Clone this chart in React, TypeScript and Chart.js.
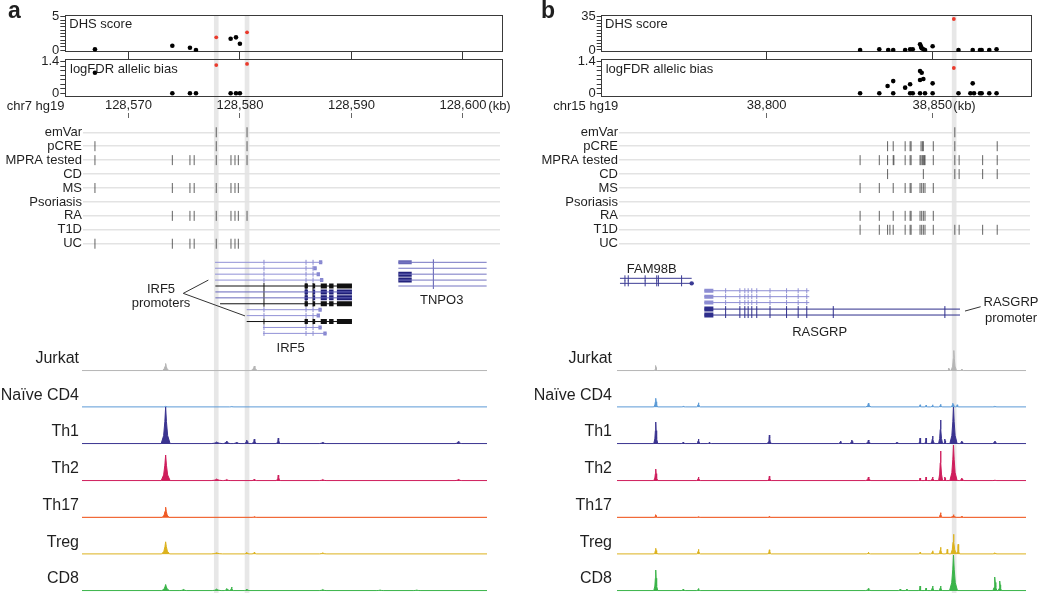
import React, { useEffect, useRef } from "react";
import { Chart, registerables } from "chart.js";

Chart.register(...registerables);

const FONT = '"Liberation Sans", Arial, Helvetica, sans-serif';
const INK = "#1f1f1f";
const PAGE_W = 1050;
const PAGE_H = 593;
Chart.defaults.font.family = FONT;
Chart.defaults.color = INK;

// ================= DATA: panel a (chr7, IRF5 locus) =================
const xTicksA = [128570, 128580, 128590, 128600];
const highlightA = [128577.88, 128580.64];
const varPosA = [128567.0, 128573.94, 128575.52, 128576.06, 128577.88, 128579.17, 128579.65, 128580.0, 128580.64];
const dhsA = [0.1, 0.65, 0.35, 0.0, 1.9, 1.7, 1.9, 0.95, 2.65];
const fdrA = [0.91, 0, 0, 0, 1.25, 0, 0, 0, 1.3];
const emVarFlagA = [0, 0, 0, 0, 1, 0, 0, 0, 1];
const dhsTicksA = [0, 0.5, 1, 1.5, 2, 2.5, 3, 3.5, 4, 4.5, 5];
const fdrTicks = [0, 0.2, 0.4, 0.6, 0.8, 1.0, 1.2, 1.4];

const annotNames = ["emVar", "pCRE", "MPRA tested", "CD", "MS", "Psoriasis", "RA", "T1D", "UC"];
const annotA: number[][] = [
  [128577.88, 128580.64],
  [128567.0, 128577.88, 128580.64],
  [128567.0, 128573.94, 128575.52, 128575.9, 128577.88, 128579.2, 128579.56, 128579.86, 128580.64],
  [],
  [128567.0, 128573.94, 128575.52, 128575.9, 128577.88, 128579.2, 128579.56, 128579.86],
  [],
  [128573.94, 128575.52, 128575.9, 128577.88, 128579.2, 128579.56, 128579.86, 128580.64],
  [],
  [128567.0, 128573.94, 128575.52, 128575.9, 128577.88, 128579.2, 128579.56, 128579.86],
];

// IRF5 transcripts (lane = index)
const irf5StartA = [128577.77, 128577.77, 128577.77, 128577.77, 128577.8, 128577.8, 128577.8, 128578.22, 128580.61, 128580.61, 128580.61, 128582.07, 128582.07];
const irf5EndA = [128587.39, 128586.89, 128587.18, 128587.48, 128590.05, 128590.05, 128590.05, 128590.05, 128587.34, 128587.18, 128590.05, 128587.34, 128587.78];
const irf5KindA = ["light", "light", "light", "light", "black", "navy", "navy", "black", "light", "light", "black", "light", "light"];
const irf5ExonsA = [128582.16, 128585.93, 128586.56];
const irf5BlocksA: [number, number][] = [[128585.8, 128586.1], [128586.55, 128586.75], [128587.25, 128587.8], [128588.0, 128588.4], [128588.7, 128590.05]];
// TNPO3 transcripts
const tnpo3LanesA = [0, 1, 2, 3, 4];
const tnpo3SpanA: [number, number] = [128594.21, 128602.13];
const tnpo3BlockA: [number, number] = [128594.21, 128595.41];
const tnpo3BlockKindA = [1, 0, 2, 2, 0];
const tnpo3ExonsA = [128597.35];
const promoterLeaderA: [number, number][][] = [
  [[128574.92, 5.24], [128577.17, 3.0]],
  [[128574.92, 5.24], [128580.46, 9.05]],
];

type Peak = [number, number, number]; // position kb, height, half-width kb
const jurkatA: Peak[] = [[128573.34, 7.5, 0.3], [128581.29, 5, 0.3]];
const naiveA: Peak[] = [[128573.34, 1, 0.2], [128579.26, 0.8, 0.2]];
const th1A: Peak[] = [[128573.34, 37, 0.4], [128577.92, 2, 0.5], [128578.82, 3, 0.3], [128579.71, 2, 0.3], [128580.61, 4, 0.2], [128581.29, 5, 0.22], [128583.44, 6, 0.2], [128587.43, 2, 0.3], [128599.59, 2.5, 0.3]];
const th2A: Peak[] = [[128573.34, 26, 0.4], [128577.92, 2, 0.5], [128578.82, 1.5, 0.3], [128581.29, 2, 0.2], [128583.44, 6, 0.2], [128587.43, 1.5, 0.3], [128599.59, 1.5, 0.3]];
const th17A: Peak[] = [[128573.34, 10.5, 0.3], [128581.29, 1, 0.2]];
const tregA: Peak[] = [[128573.34, 12.5, 0.35], [128577.92, 1.5, 0.5], [128580.61, 2, 0.2], [128581.29, 2, 0.2], [128587.43, 1.5, 0.3]];
const cd8A: Peak[] = [[128573.34, 6.5, 0.35], [128574.92, 1.5, 0.3], [128577.92, 2, 0.4], [128578.82, 2.5, 0.22], [128579.26, 4, 0.15], [128580.61, 2, 0.2], [128587.43, 1.5, 0.3], [128592.57, 1, 0.3], [128595.86, 1, 0.3]];

// ================= DATA: panel b (chr15, RASGRP locus) =================
const xTicksB = [38800, 38850];
const highlightB = [38856.6];
const dhsPosB = [38828.2, 38834.0, 38836.7, 38838.2, 38841.8, 38843.3, 38844.1, 38846.3, 38846.6, 38846.8, 38847.3, 38847.8, 38850.1, 38856.5, 38857.9, 38862.2, 38864.4, 38864.9, 38867.2, 38869.4];
const dhsB = [0, 0.7, 0, 0, 0, 0.7, 0.7, 6, 3.5, 1.75, 0.7, 0, 3.9, 32.6, 0, 0, 0, 0, 0, 0.7];
const dhsRedB = [0, 0, 0, 0, 0, 0, 0, 0, 0, 0, 0, 0, 0, 1, 0, 0, 0, 0, 0, 0];
const fdrPosB = [38828.2, 38834.0, 38836.5, 38838.2, 38838.2, 38841.8, 38843.3, 38843.3, 38844.1, 38846.3, 38846.8, 38846.3, 38847.3, 38846.3, 38847.8, 38850.1, 38850.1, 38856.5, 38857.9, 38862.2, 38861.5, 38862.6, 38864.4, 38864.9, 38867.2, 38869.4];
const fdrB = [0, 0, 0.32, 0.54, 0, 0.25, 0.4, 0, 0, 0.99, 0.91, 0.59, 0.63, 0, 0, 0.44, 0, 1.12, 0, 0.44, 0, 0, 0, 0, 0, 0];
const fdrRedB = [0, 0, 0, 0, 0, 0, 0, 0, 0, 0, 0, 0, 0, 0, 0, 0, 0, 1, 0, 0, 0, 0, 0, 0, 0, 0];
const dhsTicksB = [0, 3.5, 7, 10.5, 14, 17.5, 21, 24.5, 28, 31.5, 35];

const annotB: number[][] = [
  [38856.8],
  [38836.5, 38838.2, 38841.8, 38843.3, 38843.6, 38846.6, 38847.0, 38847.3, 38850.3, 38856.8, 38869.6],
  [38828.2, 38834.0, 38836.5, 38838.2, 38838.4, 38841.8, 38843.3, 38843.6, 38846.3, 38846.6, 38847.0, 38847.3, 38847.6, 38847.8, 38850.3, 38856.8, 38858.1, 38865.2, 38869.6],
  [38836.5, 38847.3, 38856.8, 38858.1, 38865.2, 38869.6],
  [38828.2, 38834.0, 38838.2, 38841.8, 38843.3, 38843.6, 38846.3, 38846.8, 38847.3, 38847.8, 38850.3],
  [],
  [38828.2, 38834.0, 38838.2, 38841.8, 38843.3, 38843.6, 38846.3, 38846.8, 38847.3, 38847.8, 38850.3],
  [38828.2, 38834.0, 38836.5, 38837.2, 38838.2, 38841.8, 38843.3, 38843.6, 38846.3, 38846.8, 38847.3, 38847.8, 38850.3, 38856.8, 38858.1, 38865.2, 38869.6],
  [],
];

const fam98bLanesB = [2.7, 3.55];
const fam98bSpanB: [number, number] = [38755.7, 38777.35];
const fam98bExonsB = [38757.2, 38758.2, 38763.3, 38766.8, 38767.3, 38774.3];
const rasgrpLanesB = [4.8, 5.8, 6.8, 7.9, 8.9];
const rasgrpStartB = 38781.16;
const rasgrpEndB = [38812.86, 38812.86, 38812.86, 38858.36, 38858.36];
const rasgrpDarkB = [0, 0, 0, 1, 1];
const rasgrpBlockB: [number, number] = [38781.16, 38783.9];
const rasgrpExonsB = [38787.6, 38791.9, 38793.4, 38794.4, 38795.5, 38797.0, 38801.0, 38806.0, 38809.5, 38812.1, 38820.1, 38853.8, 38858.4];
const promoterLeaderB: [number, number][][] = [[[38859.87, 8.23], [38864.6, 7.5]]];

const jurkatB: Peak[] = [[38766.5, 5.5, 0.5], [38855.0, 3, 0.5], [38856.5, 20.5, 0.8], [38858.9, 2, 0.5]];
const naiveB: Peak[] = [[38766.5, 9, 0.6], [38774.8, 1, 0.6], [38779.4, 4.5, 0.6], [38830.7, 4, 0.8], [38846.3, 2.5, 0.5], [38848.1, 2, 0.5], [38850.1, 2.5, 0.6], [38852.5, 3, 0.6], [38856.2, 4, 0.6], [38857.5, 2.5, 0.5], [38868.9, 1, 0.6]];
const th1B: Peak[] = [[38766.5, 22, 0.6], [38774.8, 2, 0.6], [38779.4, 5, 0.6], [38782.7, 2, 0.6], [38800.8, 9, 0.6], [38822.3, 3, 0.6], [38825.7, 4, 0.6], [38830.7, 4, 0.8], [38839.3, 2, 0.6], [38846.3, 6, 0.5], [38848.1, 6, 0.5], [38850.1, 8, 0.6], [38852.5, 24, 0.6], [38853.8, 5, 0.45], [38856.4, 37, 1.1], [38858.9, 3, 0.6], [38868.9, 3, 0.8]];
const th2B: Peak[] = [[38766.5, 12, 0.6], [38779.4, 4, 0.6], [38800.8, 5, 0.6], [38830.7, 4, 0.8], [38846.3, 3, 0.5], [38848.1, 4, 0.5], [38850.1, 4, 0.6], [38852.5, 30, 0.6], [38853.8, 4, 0.45], [38856.4, 36, 1.1], [38858.9, 3, 0.6], [38868.9, 1, 0.6]];
const th17B: Peak[] = [[38766.5, 3, 0.5], [38779.4, 1, 0.5], [38800.8, 1.5, 0.5], [38852.5, 5, 0.6], [38856.4, 3, 0.8], [38858.9, 1.5, 0.5]];
const tregB: Peak[] = [[38766.5, 6, 0.6], [38779.4, 5, 0.6], [38800.8, 4.5, 0.6], [38830.7, 2, 0.6], [38846.3, 2, 0.5], [38850.1, 3.5, 0.6], [38852.5, 7, 0.6], [38854.5, 5, 0.45], [38856.4, 20, 0.8], [38857.8, 10, 0.5], [38868.9, 1.5, 0.6]];
const cd8B: Peak[] = [[38766.5, 21, 0.6], [38774.8, 2, 0.6], [38779.4, 2.5, 0.6], [38830.7, 2.5, 0.8], [38840.3, 2, 0.5], [38842.3, 2, 0.5], [38846.3, 5, 0.5], [38848.1, 3, 0.5], [38850.1, 5, 0.6], [38852.5, 5, 0.6], [38856.4, 36, 1.2], [38868.9, 14, 0.6], [38870.4, 10, 0.5]];

const cellTypes = ["Jurkat", "Naïve CD4", "Th1", "Th2", "Th17", "Treg", "CD8"];
const cellColors = ["#b5b5b5", "#5b9ad6", "#3b3490", "#cf1e5c", "#f05a24", "#dcb21e", "#3bb44a"];
const signalsA = [jurkatA, naiveA, th1A, th2A, th17A, tregA, cd8A];
const signalsB = [jurkatB, naiveB, th1B, th2B, th17B, tregB, cd8B];

// ================= LAYOUT =================
type Panel = { kb0: number; px0: number; ppk: number; left: number; width: number };
const PA: Panel = { kb0: 128570, px0: 128.4, ppk: 11.15, left: 0, width: 525 };
const PB: Panel = { kb0: 38800, px0: 766.7, ppk: 3.312, left: 520, width: 530 };
const kbAt = (p: Panel, px: number) => p.kb0 + (px - p.px0) / p.ppk;

type Area = { l: number; r: number; t: number; b: number };
type Sizes = { left?: number; right?: number; top?: number; bottom?: number };

const BOX_A = { l: 65.3, r: 502.7 };
const BOX_B = { l: 601.7, r: 1031.7 };
const ANN_A = { l: 83, r: 500 };
const ANN_B = { l: 619, r: 1030 };
const SIG_A = { l: 82, r: 487 };
const SIG_B = { l: 617, r: 1026 };
const DHS_TB = { t: 15, b: 51.7 };
const FDR_TB = { t: 59.3, b: 96 };
const AXIS_TB = { t: 118, b: 119 };
const ANN_TB = { t: 125.3, b: 250.7 };
const GENE_TB = { t: 256.4, b: 339.3 };
const SIG_BASE = [371, 407.3, 444, 481, 517.7, 554.3, 591];
const SIG_MAX = 37;

function padFor(p: Panel, a: Area, s: Sizes) {
  return {
    left: a.l - p.left - (s.left ?? 0),
    right: p.left + p.width - a.r - (s.right ?? 0),
    top: a.t - (s.top ?? 0),
    bottom: PAGE_H - a.b - (s.bottom ?? 0),
  };
}
const fix = (size: number) => (s: any) => {
  if (s.isHorizontal()) s.height = size;
  else s.width = size;
  s.paddingLeft = 0;
  s.paddingRight = 0;
  s.paddingTop = 0;
  s.paddingBottom = 0;
};
const setTicks = (vals: number[]) => (s: any) => {
  s.ticks = vals.map((v) => ({ value: v }));
};
const xRange = (p: Panel, a: Area) => ({ type: "linear", min: kbAt(p, a.l), max: kbAt(p, a.r), offset: false });
const fmt = (v: number) => String(v).replace(/\B(?=(\d{3})+(?!\d))/g, ",");
// widest y-axis box that still fits inside the panel canvas (labels are clipped to it)
const axisW = (p: Panel, a: Area) => Math.min(100, a.l - p.left);

function baseOptions(p: Panel, a: Area, s: Sizes, scales: any) {
  return {
    animation: false,
    responsive: false,
    devicePixelRatio: 1,
    events: [],
    layout: { padding: padFor(p, a, s) },
    plugins: { legend: { display: false }, tooltip: { enabled: false }, title: { display: false } },
    scales,
  };
}

const borderAxis = (position: string) => ({
  type: "linear",
  position,
  display: true,
  afterFit: fix(0),
  ticks: { display: false },
  grid: { drawOnChartArea: false, drawTicks: false },
  border: { display: true, color: "#3a3a3a", width: 1 },
});

function bandChart(p: Panel, a: Area, pos: number[]) {
  return {
    type: "bar",
    data: { datasets: [{ data: pos.map((x) => ({ x, y: [0, 1] })), backgroundColor: "#e7e7e7", barThickness: 4 }] },
    options: baseOptions(p, a, {}, { x: { ...xRange(p, a), display: false }, y: { type: "linear", min: 0, max: 1, display: false } }),
  };
}

function scoreBox(p: Panel, a: Area, xTicks: number[], yTicks: number[], yMin: number, yMax: number, pos: number[], vals: number[], red: number[], tickBelow: boolean) {
  const s = { left: 40, bottom: tickBelow ? 7.6 : 0 };
  const black = pos.map((x, i) => ({ x, y: vals[i], r: red[i] })).filter((d) => !d.r);
  const reds = pos.map((x, i) => ({ x, y: vals[i], r: red[i] })).filter((d) => d.r);
  const last = yTicks[yTicks.length - 1];
  return {
    type: "scatter",
    data: {
      datasets: [
        { data: black, pointRadius: 2.3, pointBackgroundColor: "#000", pointBorderWidth: 0 },
        { data: reds, pointRadius: 1.9, pointBackgroundColor: "#ea3a2c", pointBorderWidth: 0 },
      ],
    },
    options: baseOptions(p, a, s, {
      x: {
        ...xRange(p, a),
        position: "bottom",
        afterFit: fix(s.bottom),
        afterBuildTicks: setTicks(xTicks),
        ticks: { display: false },
        grid: { drawOnChartArea: false, drawTicks: tickBelow, tickLength: 7.6, color: "#3a3a3a", lineWidth: 1 },
        border: { display: true, color: "#3a3a3a", width: 1 },
      },
      y: {
        type: "linear",
        min: yMin,
        max: yMax,
        position: "left",
        afterFit: fix(40),
        afterBuildTicks: setTicks(yTicks),
        ticks: { callback: (v: number) => (v === yTicks[0] || v === last ? String(v) : ""), font: { family: FONT, size: 13 }, color: INK, padding: 1, autoSkip: false },
        grid: { drawOnChartArea: false, tickLength: 5, color: "#3a3a3a" },
        border: { display: true, color: "#3a3a3a", width: 1 },
      },
      xt: borderAxis("top"),
      yr: borderAxis("right"),
    }),
  };
}

function axisRow(p: Panel, a: Area, xTicks: number[]) {
  const s = { top: 21 };
  return {
    type: "scatter",
    data: { datasets: [{ data: [] }] },
    options: baseOptions(p, a, s, {
      x: {
        ...xRange(p, a),
        position: "top",
        afterFit: fix(21),
        afterBuildTicks: setTicks(xTicks),
        ticks: { callback: (v: number) => fmt(v), font: { family: FONT, size: 13 }, color: INK, padding: 0, autoSkip: false, maxRotation: 0 },
        grid: { drawOnChartArea: false, drawTicks: true, tickLength: 5, color: "#666" },
        border: { display: false },
      },
      y: { type: "linear", display: false },
    }),
  };
}

function annotChart(p: Panel, a: Area, rows: number[][]) {
  const w = axisW(p, a);
  const s = { left: w };
  const data = rows.flatMap((xs, r) => xs.map((x) => ({ x, y: r })));
  return {
    type: "scatter",
    data: {
      datasets: [
        { data, pointStyle: "line", pointRotation: 90, pointRadius: 5, pointBorderColor: "rgba(60,60,60,0.8)", pointBorderWidth: 1, pointBackgroundColor: "rgba(0,0,0,0)" },
      ],
    },
    options: baseOptions(p, a, s, {
      x: { ...xRange(p, a), display: false },
      y: {
        type: "linear",
        min: -0.5,
        max: annotNames.length - 0.5,
        reverse: true,
        position: "left",
        afterFit: fix(w),
        afterBuildTicks: setTicks(annotNames.map((_, i) => i)),
        ticks: { callback: (v: number) => annotNames[v], font: { family: FONT, size: 13 }, color: INK, padding: 1, autoSkip: false },
        grid: { drawTicks: false, color: "#e3e3e3", lineWidth: 1.5 },
        border: { display: false },
      },
    }),
  };
}

const BASE = 0.4;
// draws each read-off peak (centre, height, half-width) as a spike outline
function profile(peaks: Peak[], x0: number, x1: number) {
  const pts: { x: number; y: number }[] = [{ x: x0, y: BASE }];
  [...peaks]
    .sort((m, n) => m[0] - n[0])
    .forEach(([c, h, w]) => {
      const d = h - BASE;
      pts.push(
        { x: c - w, y: BASE },
        { x: c - 0.45 * w, y: BASE + 0.22 * d },
        { x: c - 0.18 * w, y: BASE + 0.6 * d },
        { x: c, y: h },
        { x: c + 0.18 * w, y: BASE + 0.6 * d },
        { x: c + 0.45 * w, y: BASE + 0.22 * d },
        { x: c + w, y: BASE }
      );
    });
  pts.push({ x: x1, y: BASE });
  return pts;
}

function signalChart(p: Panel, a: Area, name: string, color: string, peaks: Peak[], labelPad: number) {
  const w = axisW(p, a);
  const s = { left: w };
  return {
    type: "line",
    data: {
      datasets: [
        { data: profile(peaks, kbAt(p, a.l), kbAt(p, a.r)), borderColor: color, backgroundColor: color, borderWidth: 1, fill: "origin", pointRadius: 0, tension: 0 },
      ],
    },
    options: baseOptions(p, a, s, {
      x: { ...xRange(p, a), display: false },
      y: {
        type: "linear",
        min: -0.5,
        max: SIG_MAX,
        position: "left",
        afterFit: fix(w),
        afterBuildTicks: setTicks([12]),
        ticks: { callback: () => name, font: { family: FONT, size: 16 }, color: INK, padding: labelPad, autoSkip: false },
        grid: { display: false, drawTicks: false },
        border: { display: false },
      },
    }),
  };
}

type Seg = [number, number, number];
const segLine = (segs: Seg[], color: string, width: number) => ({
  showLine: true,
  spanGaps: false,
  pointRadius: 0,
  borderColor: color,
  borderWidth: width,
  borderCapStyle: "butt",
  data: segs.flatMap(([x1, x2, y]) => [{ x: x1, y }, { x: x2, y }, { x: x2, y: null }]),
});
const tickMarks = (pts: { x: number; y: number }[], color: string, r: number) => ({
  showLine: false,
  pointStyle: "line",
  pointRotation: 90,
  pointRadius: r,
  pointBorderColor: color,
  pointBorderWidth: 1,
  data: pts,
});

function geneChart(p: Panel, a: Area, datasets: any[]) {
  return {
    type: "scatter",
    data: { datasets },
    options: baseOptions(p, a, {}, { x: { ...xRange(p, a), display: false }, y: { type: "linear", min: -1, max: 13, reverse: true, display: false } }),
  };
}

function genesA() {
  const lanes = irf5StartA.map((_, i) => i);
  const of = (k: string) => lanes.filter((i) => irf5KindA[i] === k);
  const light = of("light");
  const black = of("black");
  const navy = of("navy");
  const dark = lanes.filter((i) => irf5KindA[i] !== "light");
  const exonPts = (rows: number[]) =>
    rows.flatMap((i) => irf5ExonsA.filter((e) => e > irf5StartA[i] && e < irf5EndA[i]).map((e) => ({ x: e, y: i })));
  const blocks = (rows: number[]) => rows.flatMap((i) => irf5BlocksA.map(([b1, b2]) => [b1, b2, i] as Seg));
  return [
    segLine(light.map((i) => [irf5StartA[i], irf5EndA[i], i] as Seg), "#9191d6", 1),
    segLine(light.map((i) => [irf5EndA[i] - 0.3, irf5EndA[i], i] as Seg), "#8585cf", 4),
    tickMarks(exonPts(light), "#8a8ad0", 2.5),
    segLine(navy.map((i) => [irf5StartA[i], irf5EndA[i], i] as Seg), "#6767bb", 1),
    segLine(black.map((i) => [irf5StartA[i], irf5EndA[i], i] as Seg), "#111", 1),
    segLine(blocks(black), "#111", 5),
    segLine(blocks(navy), "#1f1f78", 5),
    tickMarks(exonPts(dark), "#111", 3),
    segLine(tnpo3LanesA.map((l) => [tnpo3SpanA[0], tnpo3SpanA[1], l] as Seg), "#7575c2", 1),
    segLine(tnpo3LanesA.filter((l) => tnpo3BlockKindA[l] === 1).map((l) => [tnpo3BlockA[0], tnpo3BlockA[1], l] as Seg), "#6868b6", 4),
    segLine(tnpo3LanesA.filter((l) => tnpo3BlockKindA[l] === 2).map((l) => [tnpo3BlockA[0], tnpo3BlockA[1], l] as Seg), "#23237c", 5),
    tickMarks(tnpo3LanesA.flatMap((l) => tnpo3ExonsA.map((e) => ({ x: e, y: l }))), "#5a5ab0", 3),
    ...promoterLeaderA.map((ln) => ({ ...segLine([], "#333", 1), data: ln.map(([x, y]) => ({ x, y })) })),
  ];
}

function genesB() {
  const fc = "#3b3b94";
  const light = rasgrpLanesB.map((_, i) => i).filter((i) => !rasgrpDarkB[i]);
  const dark = rasgrpLanesB.map((_, i) => i).filter((i) => rasgrpDarkB[i]);
  const rows = (idx: number[]) => idx.map((i) => [rasgrpStartB, rasgrpEndB[i], rasgrpLanesB[i]] as Seg);
  const blk = (idx: number[]) => idx.map((i) => [rasgrpBlockB[0], rasgrpBlockB[1], rasgrpLanesB[i]] as Seg);
  const ex = (idx: number[]) =>
    idx.flatMap((i) => rasgrpExonsB.filter((e) => e <= rasgrpEndB[i] + 0.01).map((e) => ({ x: e, y: rasgrpLanesB[i] })));
  return [
    segLine(fam98bLanesB.map((l) => [fam98bSpanB[0], fam98bSpanB[1], l] as Seg), fc, 1),
    tickMarks(fam98bLanesB.flatMap((l) => fam98bExonsB.map((e) => ({ x: e, y: l }))), fc, 3),
    { showLine: false, pointRadius: 2.2, pointBackgroundColor: fc, pointBorderWidth: 0, data: [{ x: fam98bSpanB[1], y: fam98bLanesB[1] }] },
    segLine(rows(light), "#8e8ed3", 1),
    segLine(blk(light), "#8e8ed3", 4),
    tickMarks(ex(light), "#8e8ed3", 2.5),
    segLine(rows(dark), "#2e2e8c", 1),
    segLine(blk(dark), "#2e2e8c", 5),
    tickMarks(ex(dark), "#2e2e8c", 3),
    ...promoterLeaderB.map((ln) => ({ ...segLine([], "#333", 1), data: ln.map(([x, y]) => ({ x, y })) })),
  ];
}

// ================= COMPONENTS =================
function ChartCanvas({ panel, make }: { panel: Panel; make: () => any }) {
  const ref = useRef<HTMLCanvasElement>(null);
  useEffect(() => {
    const chart = new Chart(ref.current as HTMLCanvasElement, make());
    return () => chart.destroy();
  }, []);
  return (
    <canvas
      ref={ref}
      width={panel.width}
      height={PAGE_H}
      style={{ position: "absolute", left: panel.left, top: 0, width: panel.width, height: PAGE_H }}
    />
  );
}

function Label({ x, y, text, size = 13, align = "left", bold = false, lh }: any) {
  const tx = align === "center" ? "-50%" : align === "right" ? "-100%" : "0";
  return (
    <div
      style={{
        position: "absolute",
        left: x,
        top: y,
        transform: `translate(${tx}, -50%)`,
        fontFamily: FONT,
        fontSize: size,
        fontWeight: bold ? 700 : 400,
        lineHeight: lh ? `${lh}px` : 1,
        color: INK,
        whiteSpace: "pre",
        textAlign: align,
      }}
    >
      {text}
    </div>
  );
}

function panelCharts(p: Panel, box: { l: number; r: number }, ann: { l: number; r: number }, sig: { l: number; r: number }, d: any) {
  const list: (() => any)[] = [
    () => bandChart(p, { ...box, t: DHS_TB.t, b: PAGE_H }, d.bands),
    () => scoreBox(p, { ...box, ...DHS_TB }, d.xTicks, d.dhsTicks, d.dhsMin, d.dhsMax, d.dhsPos, d.dhs, d.dhsRed, true),
    () => scoreBox(p, { ...box, ...FDR_TB }, d.xTicks, fdrTicks, -0.12, 1.505, d.fdrPos, d.fdr, d.fdrRed, false),
    () => axisRow(p, { ...box, ...AXIS_TB }, d.xTicks),
    () => annotChart(p, { ...ann, ...ANN_TB }, d.annot),
    () => geneChart(p, { ...box, ...GENE_TB }, d.genes()),
  ];
  cellTypes.forEach((name, i) => {
    list.push(() =>
      signalChart(p, { ...sig, t: SIG_BASE[i] - SIG_MAX, b: SIG_BASE[i] + 0.5 }, name, cellColors[i], d.signals[i], d.labelPad)
    );
  });
  return list;
}

const chartsA = panelCharts(PA, BOX_A, ANN_A, SIG_A, {
  bands: highlightA,
  xTicks: xTicksA,
  dhsTicks: dhsTicksA,
  dhsMin: -0.25,
  dhsMax: 5.25,
  dhsPos: varPosA,
  dhs: dhsA,
  dhsRed: emVarFlagA,
  fdrPos: varPosA,
  fdr: fdrA,
  fdrRed: emVarFlagA,
  annot: annotA,
  genes: genesA,
  signals: signalsA,
  labelPad: 3,
});
const chartsB = panelCharts(PB, BOX_B, ANN_B, SIG_B, {
  bands: highlightB,
  xTicks: xTicksB,
  dhsTicks: dhsTicksB,
  dhsMin: -1.8,
  dhsMax: 36.8,
  dhsPos: dhsPosB,
  dhs: dhsB,
  dhsRed: dhsRedB,
  fdrPos: fdrPosB,
  fdr: fdrB,
  fdrRed: fdrRedB,
  annot: annotB,
  genes: genesB,
  signals: signalsB,
  labelPad: 5,
});

export default function App() {
  return (
    <div style={{ position: "fixed", left: 0, top: 0, width: PAGE_W, height: PAGE_H, background: "#fff", overflow: "hidden" }}>
      {chartsA.map((m, i) => (
        <ChartCanvas key={"a" + i} panel={PA} make={m} />
      ))}
      {chartsB.map((m, i) => (
        <ChartCanvas key={"b" + i} panel={PB} make={m} />
      ))}
      <Label x={8} y={10.2} text="a" size={23} bold />
      <Label x={541} y={10.2} text="b" size={23} bold />
      <Label x={69.3} y={23.3} text="DHS score" />
      <Label x={70} y={67.7} text="logFDR allelic bias" />
      <Label x={605} y={23.3} text="DHS score" />
      <Label x={605.7} y={67.7} text="logFDR allelic bias" />
      <Label x={6.7} y={105} text="chr7 hg19" />
      <Label x={553.3} y={105} text="chr15 hg19" />
      <Label x={488.3} y={105} text="(kb)" />
      <Label x={953.3} y={105} text="(kb)" />
      <Label x={161} y={296.3} text={"IRF5\npromoters"} align="center" lh={14} />
      <Label x={290.7} y={347} text="IRF5" align="center" />
      <Label x={441.7} y={299} text="TNPO3" align="center" />
      <Label x={651.7} y={268.3} text="FAM98B" align="center" />
      <Label x={819.7} y={330.7} text="RASGRP" align="center" />
      <Label x={1011} y={310} text={"RASGRP\npromoter"} align="center" lh={16.3} />
    </div>
  );
}
